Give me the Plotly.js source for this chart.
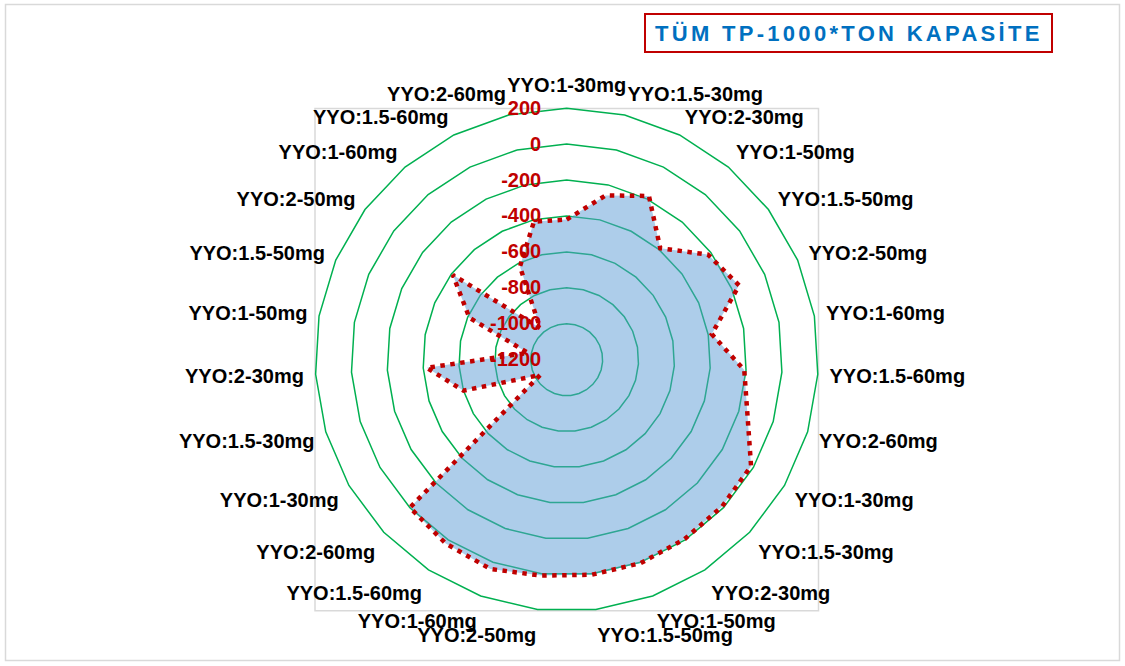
<!DOCTYPE html>
<html>
<head>
<meta charset="utf-8">
<script src="https://cdn.plot.ly/plotly-3.0.1.min.js"></script>
<style>
  html, body { margin: 0; padding: 0; background: #ffffff; }
  #chart { width: 1125px; height: 666px; }
  .annotation-text { letter-spacing: 3.3px; }
</style>
</head>
<body>
<div id="chart"></div>
<script>
// ---- data ----
const categories = [
  "YYO:1-30mg", "YYO:1.5-30mg", "YYO:2-30mg",
  "YYO:1-50mg", "YYO:1.5-50mg", "YYO:2-50mg",
  "YYO:1-60mg", "YYO:1.5-60mg", "YYO:2-60mg",
  "YYO:1-30mg", "YYO:1.5-30mg", "YYO:2-30mg",
  "YYO:1-50mg", "YYO:1.5-50mg", "YYO:2-50mg",
  "YYO:1-60mg", "YYO:1.5-60mg", "YYO:2-60mg",
  "YYO:1-30mg", "YYO:1.5-30mg", "YYO:2-30mg",
  "YYO:1-50mg", "YYO:1.5-50mg", "YYO:2-50mg",
  "YYO:1-60mg", "YYO:1.5-60mg", "YYO:2-60mg"
];
const capacity = [
  -420, -260, -180,
  -390, -220, -155,
  -380, -210, -150,
  -15, -10, -5,
  5, 5, 10,
  40, 25, 0,
  -1030, -600, -420,
  -980, -610, -410,
  -970, -620, -410
];
const radialTickValues = [-1200, -1000, -800, -600, -400, -200, 0, 200];
const radialTickLabels = ["-1200", "-1000", "-800", "-600", "-400", "-200", "0", "200"];
const chartTitle = "TÜM TP-1000*TON KAPASİTE";

// unique ids so repeated category names stay separate spokes
const thetaIds = categories.map((c, i) => "k" + i);

const W = 1125, H = 666;
const cx = 566.7, cy = 359.7, R = 251.5;

const trace = {
  type: "scatterpolar",
  r: capacity.concat([capacity[0]]),
  theta: thetaIds.concat([thetaIds[0]]),
  mode: "lines",
  fill: "toself",
  fillcolor: "rgba(91,155,213,0.5)",
  line: { color: "#C00000", width: 4.5, dash: "4.5px,5.5px" },
  hoverinfo: "skip",
  showlegend: false
};

const layout = {
  width: W, height: H,
  margin: { l: 0, r: 0, t: 0, b: 0 },
  paper_bgcolor: "#ffffff",
  showlegend: false,
  font: { family: "Liberation Sans, Arial, sans-serif", color: "#000000" },
  polar: {
    domain: {
      x: [(cx - R) / W, (cx + R) / W],
      y: [(H - cy - R) / H, (H - cy + R) / H]
    },
    bgcolor: "rgba(0,0,0,0)",
    gridshape: "linear",
    angularaxis: {
      type: "category",
      categoryorder: "array",
      categoryarray: thetaIds,
      tickmode: "array",
      tickvals: thetaIds,
      ticktext: categories,
      direction: "clockwise",
      rotation: 90,
      showgrid: false,
      showline: true,
      linecolor: "#00B050",
      linewidth: 1.5,
      ticks: "outside",
      ticklen: 7,
      tickcolor: "rgba(0,0,0,0)",
      tickfont: { family: "Liberation Sans, Arial, sans-serif", size: 20, color: "#000000", weight: "bold" }
    },
    radialaxis: {
      range: [-1200, 200],
      angle: 90,
      side: "counterclockwise",
      tickmode: "array",
      tickvals: radialTickValues,
      ticktext: radialTickLabels,
      showline: false,
      showgrid: true,
      gridcolor: "#00B050",
      gridwidth: 1.5,
      ticks: "outside",
      ticklen: 18,
      tickcolor: "rgba(0,0,0,0)",
      tickangle: 90,
      tickfont: { family: "Liberation Sans, Arial, sans-serif", size: 20, color: "#C00000", weight: "bold" },
      layer: "above traces"
    }
  },
  shapes: [
    { type: "rect", xref: "paper", yref: "paper",
      x0: 5.5 / W, x1: 1119.5 / W, y0: 1 - 660.5 / H, y1: 1 - 4.5 / H,
      line: { color: "#D9D9D9", width: 1.5 }, fillcolor: "rgba(0,0,0,0)", layer: "below" },
    { type: "rect", xref: "paper", yref: "paper",
      x0: 315 / W, x1: 818.5 / W, y0: 1 - 610.7 / H, y1: 1 - 108.5 / H,
      line: { color: "#D9D9D9", width: 1.5 }, fillcolor: "rgba(0,0,0,0)", layer: "below" },
    { type: "rect", xref: "paper", yref: "paper",
      x0: 645 / W, x1: 1052 / W, y0: 1 - 52 / H, y1: 1 - 14 / H,
      line: { color: "#C00000", width: 2 }, fillcolor: "#ffffff", layer: "above" }
  ],
  annotations: [
    { xref: "paper", yref: "paper", x: 849 / W, y: 1 - 33 / H,
      xanchor: "center", yanchor: "middle", showarrow: false,
      text: chartTitle,
      font: { family: "Liberation Sans, Arial, sans-serif", size: 22, color: "#0070C0", weight: "bold" } }
  ]
};

Plotly.newPlot("chart", [trace], layout, { staticPlot: true, displayModeBar: false });
</script>
</body>
</html>
